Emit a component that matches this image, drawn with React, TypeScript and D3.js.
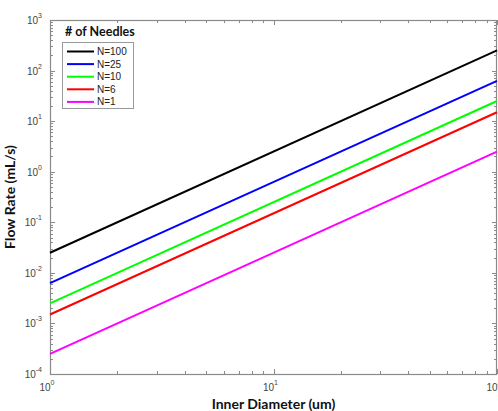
import { useRef, useEffect } from "react";
import * as d3 from "d3";

// diameter endpoints (um) and flow rate (mL/s) read at each end
const diameters = [1, 100];
const seriesNames = ["N=100", "N=25", "N=10", "N=6", "N=1"];
const seriesColors = ["#000000", "#0000ff", "#00ff00", "#ff0000", "#ff00ff"];
const flowAtStart = [0.025, 0.00625, 0.0025, 0.0015, 0.00025];
const flowAtEnd = [250, 62.5, 25, 15, 2.5];
const xTickExps = [0, 1, 2];
const yTickExps = [-4, -3, -2, -1, 0, 1, 2, 3];

const width = 498;
const height = 411;
const marginTop = 20;
const marginRight = 1;
const marginBottom = 37;
const marginLeft = 50;

export default function App() {
  const ref = useRef<SVGSVGElement>(null);

  useEffect(() => {
    const svg = d3.select(ref.current).select(".chart-area");
    svg.selectAll("*").remove();

    const x = d3.scaleLog().domain([1, 100]).range([marginLeft, width - marginRight]);
    const y = d3.scaleLog().domain([1e-4, 1e3]).range([height - marginBottom, marginTop]);
    const x0 = marginLeft, x1 = width - marginRight;
    const y0 = height - marginBottom, y1 = marginTop;
    const axisColor = "#8a8a8a";

    // minor + major ticks (inward, all four sides)
    const ticks = svg.append("g").attr("stroke", axisColor).attr("stroke-width", 1);
    x.ticks().forEach((t) => {
      const major = Number.isInteger(Math.log10(t));
      const len = major ? 5 : 3;
      const px = Math.round(x(t)) + 0.5;
      ticks.append("line").attr("x1", px).attr("x2", px).attr("y1", y0).attr("y2", y0 - len);
      ticks.append("line").attr("x1", px).attr("x2", px).attr("y1", y1).attr("y2", y1 + len);
    });
    y.ticks().forEach((t) => {
      const major = Math.abs(Math.log10(t) - Math.round(Math.log10(t))) < 1e-9;
      const len = major ? 5 : 3;
      const py = Math.round(y(t)) + 0.5;
      ticks.append("line").attr("x1", x0).attr("x2", x0 + len).attr("y1", py).attr("y2", py);
      ticks.append("line").attr("x1", x1).attr("x2", x1 - len).attr("y1", py).attr("y2", py);
    });

    // frame
    svg.append("rect")
      .attr("x", x0 + 0.5).attr("y", y1 + 0.5)
      .attr("width", x1 - x0 - 1).attr("height", y0 - y1)
      .attr("fill", "none").attr("stroke", axisColor).attr("stroke-width", 1.2);

    // series lines
    const line = d3.line<[number, number]>().x((d) => x(d[0])).y((d) => y(d[1]));
    seriesNames.forEach((name, i) => {
      const pts: [number, number][] = [[diameters[0], flowAtStart[i]], [diameters[1], flowAtEnd[i]]];
      svg.append("path")
        .datum(pts)
        .attr("d", line)
        .attr("fill", "none")
        .attr("stroke", seriesColors[i])
        .attr("stroke-width", 2);
    });

    // tick labels
    const tickFont = "'Liberation Sans', Arial, sans-serif";
    const labels = svg.append("g").attr("fill", "#444").attr("font-family", tickFont);
    yTickExps.forEach((e) => {
      const t = labels.append("text")
        .attr("x", x0 - 8).attr("y", y(Math.pow(10, e)) + 4)
        .attr("text-anchor", "end").attr("font-size", 10);
      t.append("tspan").text("10");
      t.append("tspan").attr("dy", -6).attr("font-size", 7).text(String(e));
    });
    xTickExps.forEach((e) => {
      const t = labels.append("text")
        .attr("x", x(Math.pow(10, e)) - 3).attr("y", y0 + 17)
        .attr("text-anchor", "middle").attr("font-size", 10);
      t.append("tspan").text("10");
      t.append("tspan").attr("dy", -6).attr("font-size", 7).text(String(e));
    });

    // axis titles
    const titleFont = "Lato, 'Open Sans', sans-serif";
    svg.append("text")
      .attr("x", (x0 + x1) / 2).attr("y", height - 2)
      .attr("text-anchor", "middle").attr("font-family", titleFont)
      .attr("font-weight", "bold").attr("font-size", 14).attr("fill", "#111")
      .text("Inner Diameter (um)");
    svg.append("text")
      .attr("transform", `translate(15,${(y0 + y1) / 2}) rotate(-90)`)
      .attr("text-anchor", "middle").attr("font-family", titleFont)
      .attr("font-weight", "bold").attr("font-size", 14).attr("fill", "#111")
      .text("Flow Rate (mL/s)");

    // legend
    const legend = svg.append("g").attr("transform", "translate(62,42)");
    legend.append("text")
      .attr("x", 3).attr("y", -6)
      .attr("font-family", titleFont).attr("font-weight", "bold")
      .attr("font-size", 12.5).attr("fill", "#111")
      .text("# of Needles");
    legend.append("rect")
      .attr("x", 0.5).attr("y", 0.5).attr("width", 71).attr("height", 66)
      .attr("fill", "white").attr("stroke", "#999").attr("stroke-width", 1);
    seriesNames.forEach((name, i) => {
      const ly = 9.5 + i * 12.6;
      legend.append("line")
        .attr("x1", 5).attr("x2", 32).attr("y1", ly).attr("y2", ly)
        .attr("stroke", seriesColors[i]).attr("stroke-width", 2);
      legend.append("text")
        .attr("x", 35).attr("y", ly + 3.5)
        .attr("font-family", tickFont).attr("font-size", 10).attr("fill", "#222")
        .text(name);
    });
  }, []);

  return (
    <svg
      ref={ref}
      width={width}
      height={height}
      style={{ position: "absolute", left: 0, top: 0, background: "white" }}
    >
      <g className="chart-area" />
    </svg>
  );
}
